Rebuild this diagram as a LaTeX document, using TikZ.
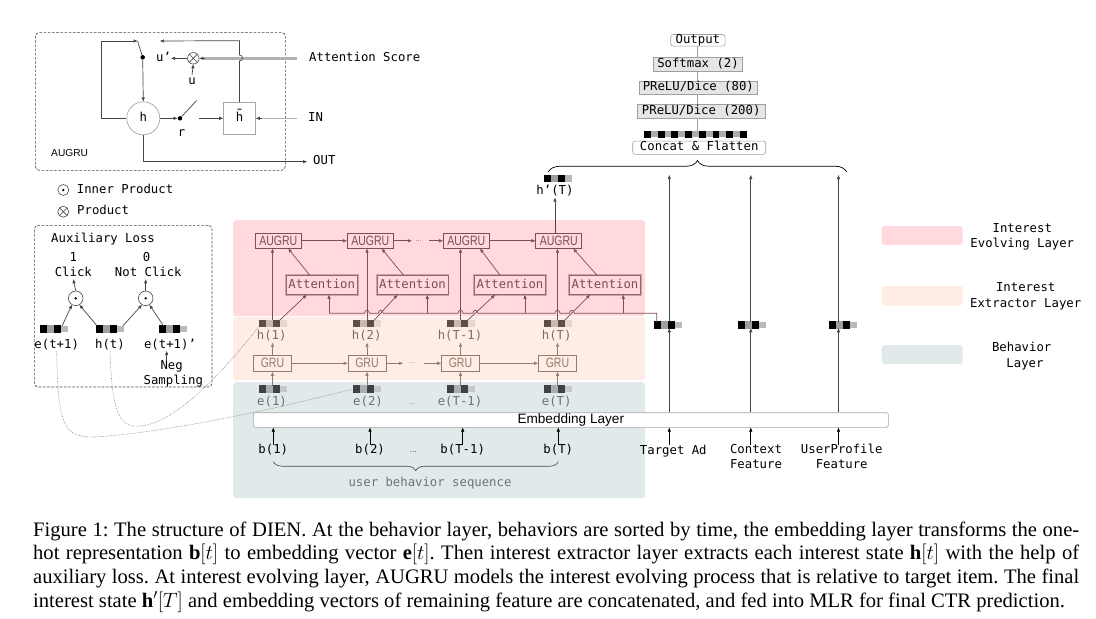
\documentclass[tikz,border=0pt]{standalone}
\usepackage{fontspec}
\setmainfont{Liberation Serif}
\newfontfamily\dmono{DejaVu Sans Mono}
\newfontfamily\lsans{Liberation Sans}
\newfontfamily\csans[FakeStretch=0.78]{Liberation Sans}
\usetikzlibrary{arrows.meta,decorations.pathreplacing,calc}
\definecolor{pinkL}{RGB}{255,217,221}
\definecolor{peachL}{RGB}{254,237,228}
\definecolor{blueL}{RGB}{225,233,235}
\definecolor{evo}{RGB}{125,78,82}
\definecolor{evoD}{RGB}{150,100,105}
\definecolor{evoB}{RGB}{205,165,170}
\definecolor{ext}{RGB}{150,120,110}
\definecolor{hD}{RGB}{95,78,72}
\definecolor{hM}{RGB}{200,185,178}
\definecolor{hL}{RGB}{228,215,208}
\definecolor{eD}{RGB}{62,66,68}
\definecolor{eM}{RGB}{168,175,178}
\definecolor{eL}{RGB}{195,201,203}
\definecolor{lblH}{RGB}{120,110,106}
\definecolor{lblE}{RGB}{110,115,118}
\definecolor{dk}{RGB}{70,70,70}
\begin{document}
\begin{tikzpicture}[x=1pt,y=-1pt,
 arr/.style={-{Triangle[length=4pt,width=3pt]}, line width=0.7pt},
 mt/.style={font=\dmono\fontsize{12.3}{14}\selectfont, inner sep=0pt, text height=9pt, text depth=2.6pt},
 st/.style={font=\lsans\fontsize{10.2}{12}\selectfont, inner sep=0pt},
 cst/.style={font=\csans\fontsize{13.5}{14}\selectfont, inner sep=0pt},
 dotsS/.style={font=\lsans\fontsize{7}{7}\selectfont, inner sep=0pt},
 capf/.style={font=\fontsize{20.6}{23.7}\selectfont\frenchspacing, inner sep=0pt},
 dframe/.style={draw=dk, dash pattern=on 2.6pt off 1.6pt, rounded corners=4pt, line width=0.7pt, inner sep=0pt},
 lay/.style={rounded corners=3pt, inner sep=0pt},
 augbox/.style={cst, draw=evo, line width=0.7pt, fill=pinkL, minimum width=46pt, minimum height=15pt, text=evo},
 attbox/.style={mt, draw=evoD, line width=0.6pt, preaction={draw=evoB, line width=2.6pt}, fill=pinkL, minimum width=71pt, minimum height=19pt, text=evo},
 grubox/.style={cst, draw=ext, line width=0.7pt, fill=peachL, minimum width=38pt, minimum height=16.5pt, text=ext},
 mlpbox/.style={mt, draw=gray!75, line width=0.6pt, fill=gray!20},
 rbox/.style={mt, draw=gray!75, line width=0.6pt, fill=white, rounded corners=2.5pt},
 vec/.style n args={3}{rectangle, minimum width=28pt, minimum height=6.5pt, inner sep=0pt, outer sep=0pt, fill=#3,
   path picture={
   \fill[#1] ([xshift=-14pt,yshift=-4pt]path picture bounding box.center) rectangle ++(7pt,8pt);
   \fill[#2] ([xshift=-7pt,yshift=-4pt]path picture bounding box.center) rectangle ++(7pt,8pt);
   \fill[#1] ([xshift=0pt,yshift=-4pt]path picture bounding box.center) rectangle ++(7pt,8pt);}},
 vecK/.style={vec={black}{gray!75}{gray!55}},
 vecH/.style={vec={hD}{hM}{hL}},
 vecE/.style={vec={eD}{eM}{eL}},
 bigvec/.style={rectangle, minimum width=103pt, minimum height=6.3pt, inner sep=0pt, fill=gray!65,
   path picture={\foreach \i in {0,2,...,14}{\fill[black] ([xshift={-51.5pt+\i*6.867pt},yshift=-4pt]path picture bounding box.center) rectangle ++(6.867pt,8pt);}}},
 otimes/.style={circle, draw=dk, line width=0.6pt, inner sep=0pt, path picture={\draw[dk, line width=0.6pt] (path picture bounding box.north west) -- (path picture bounding box.south east) (path picture bounding box.north east) -- (path picture bounding box.south west);}},
 odot/.style={circle, draw=dk, line width=0.6pt, inner sep=0pt, path picture={\fill[black] (path picture bounding box.center) circle[radius=1.3pt];}},
 dotl/.style={densely dotted, gray, line width=0.6pt}
]
\useasboundingbox (0,0) rectangle (1096,619);

% ---------- layer backgrounds ----------
\node[lay, fill=pinkL, minimum width=412pt, minimum height=96pt, anchor=north west] (evol) at (233,220) {};
\node[lay, fill=peachL, minimum width=412pt, minimum height=63pt, anchor=north west] (extr) at (233,317) {};
\node[lay, fill=blueL, minimum width=412pt, minimum height=116pt, anchor=north west] (behav) at (233,382) {};

% ---------- AUGRU cell ----------
\node[dframe, minimum width=250pt, minimum height=138pt, anchor=north west] (augframe) at (35,32) {};
\node[st, anchor=west, text=black] (auglab) at (51,153.3) {AUGRU};
\node[circle, draw=gray!70, line width=0.7pt, minimum size=33pt, mt] (hc) at (143.3,118.3) {h};
\node[draw=gray!70, fill=white, line width=0.7pt, minimum size=32pt, mt] (ht) at (239.5,118.3) {\~{h}};
\node[circle, fill=black, minimum size=4.5pt, inner sep=0pt] (rdot) at (180,118.3) {};
\coordinate (rsw) at (196.7,100.5);
\coordinate (rin) at (199,118.3);
\node[mt] (rlab) at (181.5,133) {r};
\node[circle, fill=black, minimum size=4.5pt, inner sep=0pt] (udot) at (142.7,57.3) {};
\coordinate (usw) at (137.5,41);
\coordinate (lc) at (101.7,41);
\coordinate (topend) at (160,41);
\node[otimes, minimum size=11.5pt] (ot) at (193.3,58.3) {};
\node[mt] (upl) at (163.5,58.3) {u’};
\node[mt] (ul) at (192,81) {u};
\node[mt, anchor=west] (attsc) at (309,58.5) {Attention Score};
\coordinate (asl) at (296.7,58.3);
\node[mt, anchor=west] (inl) at (308,118.3) {IN};
\coordinate (inS) at (296.7,118.3);
\node[mt, anchor=west] (outl) at (313,161.7) {OUT};

\draw[line width=2.4pt, gray!60] (asl) -- ([xshift=5pt]ot.east);
\draw[arr, dk] ([xshift=6pt]ot.east) -- (ot.east);
\draw[line width=1.3pt, gray!60] (inS) -- ([xshift=4pt]ht.east);
\draw[arr, dk] ([xshift=6pt]ht.east) -- (ht.east);
\draw[arr, dk, shorten >=6pt] (hc.south) |- (outl.west);
\draw[arr, dk] (ht.north) -- ++(0,-41) .. controls +(4,0) and +(4,0) .. ++(0,-6) -- ++(0,-14.3) -- (topend);
\draw[arr, dk] (hc.west) -| (lc) -- (usw);
\draw[dk, line width=0.7pt] (usw) -- (udot);
\draw[arr, dk] (udot) -- (hc.north);
\draw[arr, dk] (hc.east) -- (rdot.west);
\draw[dk, line width=0.7pt] (rdot) -- (rsw);
\draw[arr, dk] (rin) -- (ht.west);
\draw[arr, dk] (ot.west) -- (upl.east);
\draw[arr, dk] (ul.north) -- (ot.south);

% ---------- symbol legend ----------
\node[odot, minimum size=11pt] (ipsym) at (63.3,190) {};
\node[mt, anchor=west] (iplab) at (76.7,190) {Inner Product};
\node[otimes, minimum size=11pt] (psym) at (63.3,211.7) {};
\node[mt, anchor=west] (plab) at (77,211.7) {Product};

% ---------- auxiliary loss ----------
\node[dframe, minimum width=177.7pt, minimum height=161.7pt, anchor=north west] (auxframe) at (34,225) {};
\node[mt, anchor=west] (auxlab) at (51,239) {Auxiliary Loss};
\node[mt] (one) at (73.3,258.3) {1};
\node[mt] (click) at (73.3,273.3) {Click};
\node[mt] (zero) at (146.7,258.3) {0};
\node[mt] (nclick) at (148.3,273.3) {Not Click};
\node[odot, minimum size=14.6pt] (d1) at (75.7,298.3) {};
\node[odot, minimum size=14.6pt] (d2) at (145.7,298.3) {};
\node[vecK] (va1) at (54.2,329) {};
\node[vecK] (va2) at (110,329) {};
\node[vecK] (va3) at (172.5,329) {};
\node[mt] (la1) at (56.7,345) {e(t+1)};
\node[mt] (la2) at (110,345) {h(t)};
\node[mt] (la3) at (170,345) {e(t+1)’};
\node[mt] (neg) at (171.7,366.7) {Neg};
\node[mt] (samp) at (173.3,381.7) {Sampling};
\draw[arr, dk] (d1.north) -- (click.south);
\draw[arr, dk] (d2.north) -- (d2.north |- nclick.south);
\draw[arr, dk] ([xshift=8pt]va1.north) -- (d1.240);
\draw[arr, dk] ([xshift=-13pt]va2.north) -- (d1.-60);
\draw[arr, dk] ([xshift=13pt]va2.north) -- (d2.240);
\draw[arr, dk] ([xshift=-9pt]va3.north) -- (d2.-60);
\draw[arr, dk] ([xshift=-5pt]neg.north) -- ([xshift=-5pt]neg.north |- la3.south);

% ---------- evolving layer ----------
\node[augbox] (ag1) at (278.3,240.8) {AUGRU};
\node[augbox] (ag2) at (370.3,240.8) {AUGRU};
\node[augbox] (ag3) at (466.3,240.8) {AUGRU};
\node[augbox] (ag4) at (558.8,240.8) {AUGRU};
\node[dotsS, text=evo] (agd) at (418.5,240.8) {…};
\node[attbox] (at1) at (321.7,285) {Attention};
\node[attbox] (at2) at (412.5,285) {Attention};
\node[attbox] (at3) at (510,285) {Attention};
\node[attbox] (at4) at (605,285) {Attention};
\draw[arr, evo] (ag1) -- (ag2);
\draw[arr, evo, shorten >=3pt] (ag2) -- (agd);
\draw[arr, evo, shorten <=7pt] (agd) -- (ag3);
\draw[arr, evo] (ag3) -- (ag4);
\draw[arr, evo] ([xshift=-12pt]at1.north) -- ([xshift=10pt]ag1.south);
\draw[arr, evo] ([xshift=-9pt]at2.north) -- ([xshift=11.4pt]ag2.south);
\draw[arr, evo] ([xshift=-10pt]at3.north) -- ([xshift=13.7pt]ag3.south);
\draw[arr, evo] ([xshift=-8pt]at4.north) -- ([xshift=14.5pt]ag4.south);

% ---------- extractor layer ----------
\node[vecH] (vh1) at (272.5,323.7) {};
\node[vecH] (vh2) at (367,323.7) {};
\node[vecH] (vh3) at (460.5,323.7) {};
\node[vecH] (vh4) at (557.5,323.7) {};
\node[mt, text=lblH] (lh1) at (271.7,336.7) {h(1)};
\node[mt, text=lblH] (lh2) at (366.7,336.7) {h(2)};
\node[mt, text=lblH] (lh3) at (460,336.7) {h(T-1)};
\node[mt, text=lblH] (lh4) at (556.7,336.7) {h(T)};
\node[grubox] (g1) at (272.5,363.3) {GRU};
\node[grubox] (g2) at (367,363.3) {GRU};
\node[grubox] (g3) at (460.5,363.3) {GRU};
\node[grubox] (g4) at (557.5,363.3) {GRU};
\node[dotsS, text=ext] (gd) at (411.7,363.3) {…};
\draw[arr, ext] (g1) -- (g2);
\draw[arr, ext, shorten >=5pt] (g2) -- (gd);
\draw[arr, ext, shorten <=9pt] (gd) -- (g3);
\draw[arr, ext] (g3) -- (g4);
\foreach \k in {1,2,3,4}{
  \draw[arr, ext] (g\k.north) -- (g\k.north |- lh\k.south);
  \draw[arr, evo] (vh\k.north) -- (vh\k.north |- ag\k.south);
}
\draw[arr, evo] ([xshift=7pt]vh1.north) -- ([xshift=-15pt]at1.south);
\draw[arr, evo] ([xshift=7pt]vh2.north) -- ([xshift=-15pt]at2.south);
\draw[arr, evo] ([xshift=7pt]vh3.north) -- ([xshift=-15pt]at3.south);
\draw[arr, evo] ([xshift=7pt]vh4.north) -- ([xshift=-15pt]at4.south);

% ---------- behavior layer ----------
\node[vecE] (ve1) at (272.5,389) {};
\node[vecE] (ve2) at (367,389) {};
\node[vecE] (ve3) at (460.5,389) {};
\node[vecE] (ve4) at (557.5,389) {};
\node[mt, text=lblE] (le1) at (272,402.7) {e(1)};
\node[mt, text=lblE] (le2) at (368,402.7) {e(2)};
\node[dotsS, text=lblE] (led) at (411.7,404) {…};
\node[mt, text=lblE] (le3) at (460,402.7) {e(T-1)};
\node[mt, text=lblE] (le4) at (556.7,402.7) {e(T)};
\foreach \k in {1,2,3,4}{
  \draw[arr, ext] (ve\k.north) -- (ve\k.north |- g\k.south);
}
\node[draw=gray!70, line width=0.6pt, fill=white, rounded corners=2pt, minimum width=635pt, minimum height=14.6pt, inner sep=0pt, font=\lsans\fontsize{13.6}{14}\selectfont] (emb) at (570.8,420) {Embedding Layer};
\node[mt] (b1) at (273.3,450.7) {b(1)};
\node[mt] (b2) at (370,450.7) {b(2)};
\node[dotsS] (bd) at (413.3,452) {…};
\node[mt] (b3) at (462.7,450.7) {b(T-1)};
\node[mt] (b4) at (558.3,450.7) {b(T)};
\foreach \k in {1,2,3,4}{
  \draw[arr, black] (b\k.north) -- (b\k.north |- emb.south);
}
\draw[dk, line width=0.6pt, decorate, decoration={brace, amplitude=9pt, mirror}] ([yshift=-5pt]b1.south) -- ([yshift=-5pt]b4.south);
\node[mt, text=lblE] (ubs) at (430,483.3) {user behavior sequence};

% ---------- dotted links from auxiliary loss ----------
\draw[dotl] (la1.south) .. controls (58,430) and (65,437) .. (95,437) .. controls (170,432) and (270,410) .. (ve2.west);
\draw[dotl] (la2.south) .. controls (112,415) and (120,428) .. (140,426) .. controls (175,424) and (225,370) .. (vh1.south west);

% ---------- other features ----------
\coordinate (colT) at (669.3,0);
\coordinate (colC) at (750.8,0);
\coordinate (colU) at (838.5,0);
\coordinate (colA) at (656.7,0);
\coordinate (brb) at (0,175);
\coordinate (attY) at (0,313.3);
\node[vecK] (vT) at (667.5,325) {};
\node[vecK] (vC) at (751.7,325) {};
\node[vecK] (vU) at (842.5,325) {};
\node[mt] (tA) at (673.3,451) {Target Ad};
\node[mt] (cF1) at (756,450.7) {Context};
\node[mt] (cF2) at (756,465.7) {Feature};
\node[mt] (uF1) at (841.7,450.7) {UserProfile};
\node[mt] (uF2) at (841.7,465.7) {Feature};
\draw[arr] (colT |- tA.north) -- (colT |- emb.south);
\draw[arr] (colC |- cF1.north) -- (colC |- emb.south);
\draw[arr] (colU |- uF1.north) -- (colU |- emb.south);
\draw[arr, dk] (colT |- emb.north) -- (colT |- vT.south);
\draw[arr, dk] (colC |- emb.north) -- (colC |- vC.south);
\draw[arr, dk] (colU |- emb.north) -- (colU |- vU.south);
\draw[arr, dk] (colT |- vT.north) -- (colT |- brb);
\draw[arr, dk] (colC |- vC.north) -- (colC |- brb);
\draw[arr, dk] (colU |- vU.north) -- (colU |- brb);

% attention query line (target ad -> attention units)
\draw[evo, line width=0.7pt] (colA |- vT.north) -- (colA |- attY)
  -- (574.3,313.3) .. controls (574.3,309.3) and (569.3,309.3) .. (569.3,313.3)
  -- (560,313.3) .. controls (560,309.3) and (555,309.3) .. (555,313.3)
  -- (477.9,313.3) .. controls (477.9,309.3) and (472.9,309.3) .. (472.9,313.3)
  -- (463,313.3) .. controls (463,309.3) and (458,309.3) .. (458,313.3)
  -- (383.3,313.3) .. controls (383.3,309.3) and (378.3,309.3) .. (378.3,313.3)
  -- (369.5,313.3) .. controls (369.5,309.3) and (364.5,309.3) .. (364.5,313.3)
  -- (329,313.3);
\coordinate (ca1) at (329,0);
\coordinate (ca2) at (427.3,0);
\coordinate (ca3) at (525,0);
\coordinate (ca4) at (623.3,0);
\draw[arr, evo] (ca1 |- attY) -- (ca1 |- at1.south);
\draw[arr, evo] (ca2 |- attY) -- (ca2 |- at2.south);
\draw[arr, evo] (ca3 |- attY) -- (ca3 |- at3.south);
\draw[arr, evo] (ca4 |- attY) -- (ca4 |- at4.south);

% ---------- final state & MLP ----------
\node[vecK] (vhp) at (557.5,178.7) {};
\node[mt] (lhp) at (555,191.7) {h’(T)};
\draw[arr, dk] (lhp.south |- ag4.north) -- (lhp.south);
\coordinate (brL) at (548.3,172);
\coordinate (brR) at (846.7,172);
\draw[black, line width=0.7pt, decorate, decoration={brace, amplitude=11.5pt}] (brL) -- (brR);

\coordinate (colM) at (697.5,0);
\node[rbox, minimum width=133pt, minimum height=13.3pt] (concat) at (699.2,147.7) {Concat \& Flatten};
\node[bigvec] (bv) at (695.4,134.2) {};
\node[mlpbox, minimum width=127.7pt, minimum height=14pt] (p200) at (701.2,111.3) {PReLU/Dice (200)};
\node[mlpbox, minimum width=118pt, minimum height=13.3pt] (p80) at (698.3,87.7) {PReLU/Dice (80)};
\node[mlpbox, minimum width=89.4pt, minimum height=13.7pt] (sm) at (698,64.2) {Softmax (2)};
\node[rbox, minimum width=54.3pt, minimum height=10.7pt] (outp) at (697.9,40.3) {Output};
\draw[gray!75, line width=0.6pt] (colM |- outp.south) -- (colM |- sm.north);
\draw[gray!75, line width=0.6pt] (colM |- sm.south) -- (colM |- p80.north);
\draw[gray!75, line width=0.6pt] (colM |- p80.south) -- (colM |- p200.north);
\draw[gray!75, line width=0.6pt] (colM |- p200.south) -- (colM |- bv.north);

% ---------- layer legend ----------
\node[lay, fill=pinkL, minimum width=81pt, minimum height=19pt] (lgE) at (922.2,235.5) {};
\node[mt] (lgE1) at (1022.3,229.3) {Interest};
\node[mt] (lgE2) at (1022.3,244.3) {Evolving Layer};
\node[lay, fill=peachL, minimum width=81pt, minimum height=19.5pt] (lgX) at (922.2,295.8) {};
\node[mt] (lgX1) at (1025.7,288.3) {Interest};
\node[mt] (lgX2) at (1025.7,304.3) {Extractor Layer};
\node[lay, fill=blueL, minimum width=81pt, minimum height=19pt] (lgB) at (922.2,354.5) {};
\node[mt] (lgB1) at (1021.7,348.3) {Behavior};
\node[mt] (lgB2) at (1025,364) {Layer};

% ---------- caption ----------
\node[capf, anchor=base west] (cap1) at (33,536) {\makebox[1046pt][s]{Figure 1: The structure of DIEN. At the behavior layer, behaviors are sorted by time, the embedding layer transforms the one-}};
\node[capf, anchor=base west] (cap2) at (33,559.7) {\makebox[1046pt][s]{hot representation $\mathbf{b}[t]$ to embedding vector $\mathbf{e}[t]$. Then interest extractor layer extracts each interest state $\mathbf{h}[t]$ with the help of}};
\node[capf, anchor=base west] (cap3) at (33,583.4) {\makebox[1046pt][s]{auxiliary loss. At interest evolving layer, AUGRU models the interest evolving process that is relative to target item. The final}};
\node[capf, anchor=base west] (cap4) at (33,607.1) {interest state $\mathbf{h}'[T]$ and embedding vectors of remaining feature are concatenated, and fed into MLR for final CTR prediction.};
\end{tikzpicture}
\end{document}
